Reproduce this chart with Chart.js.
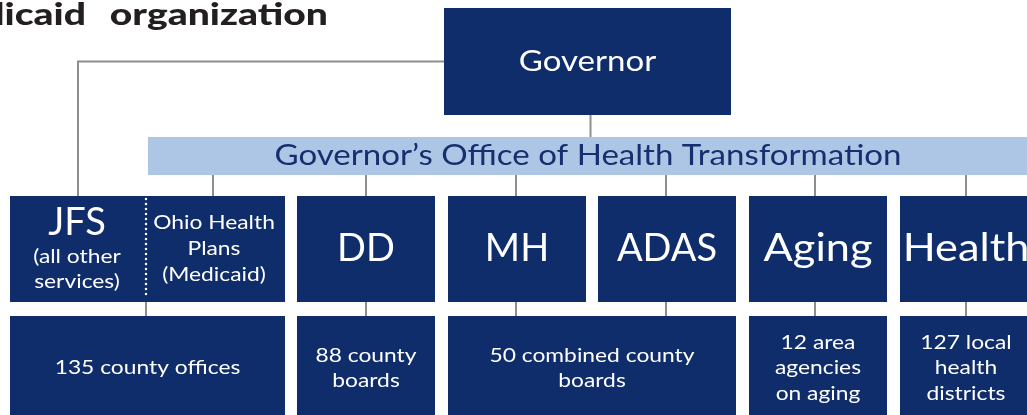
<!DOCTYPE html>
<html>
<head>
<meta charset="utf-8">
<script src="https://cdn.jsdelivr.net/npm/chart.js@4/dist/chart.umd.min.js"></script>
<style>
  html, body { margin: 0; padding: 0; background: #ffffff; }
  #wrap { width: 1027px; height: 415px; }
</style>
</head>
<body>
<div id="wrap"><canvas id="orgChart" width="1027" height="415"></canvas></div>
<script>
// chart content
var titleWords = ['Medicaid', 'organization'];
var topUnit = 'Governor';
var officeName = 'Governor\u2019s Office of Health Transformation';
var agencies = ['JFS', 'DD', 'MH', 'ADAS', 'Aging', 'Health'];
var agencyNotes = [['(all other', 'services)'], [], [], [], [], []];
var medicaidUnit = ['Ohio Health', 'Plans', '(Medicaid)'];
var localUnits = [
    ['135 county offices'],
    ['88 county', 'boards'],
    ['50 combined county', 'boards'],
    ['12 area', 'agencies', 'on aging'],
    ['127 local', 'health', 'districts']
];
// which agencies each local box sits under (first, last)
var localSpan = [[0, 0], [1, 1], [2, 3], [4, 4], [5, 5]];

// layout in chart units (x 0..1027, y 0..415 from top)
var layout = {
    titleEnds: [86, 328],
    titleBase: 25,
    top: { x0: 444, x1: 731, y0: 8, y1: 115 },
    office: { x0: 148, x1: 1030, y0: 137, y1: 175 },
    agencyRow: { y0: 196, y1: 302 },
    localRow: { y0: 316, y1: 418 },
    agencyCols: [[10, 285], [297, 435], [448, 586], [598, 736], [749, 887], [900, 1030]],
    jfsSplit: 146,
    jfsLeftCenter: 77,
    medicaidCenter: 214,
    officeDrops: [213, 366, 516, 666, 815, 966],
    localDrops: [146, 366, 516, 666, 815, 966]
};

var navy = '#0f2c6b';
var lightBlue = '#adc6e6';
var lineGray = '#8e8e8e';
var fontFamily = 'Lato, "Noto Sans", sans-serif';
var bodyWeight = 400;
var wide = 1.14; // Lato is narrower than the original geometric face

// connector lines as scatter line segments
function connectorData() {
    var pts = [];
    var t = layout.top, o = layout.office, a = layout.agencyRow, l = layout.localRow;
    var govMid = (t.x0 + t.x1) / 2 + 3;
    // governor -> JFS elbow
    pts.push({ x: t.x0, y: (t.y0 + t.y1) / 2 }, { x: layout.jfsLeftCenter + 1, y: (t.y0 + t.y1) / 2 }, { x: layout.jfsLeftCenter + 1, y: a.y0 }, { x: null, y: null });
    // governor -> office
    pts.push({ x: govMid, y: t.y1 }, { x: govMid, y: o.y0 }, { x: null, y: null });
    layout.officeDrops.forEach(function (x) {
        pts.push({ x: x, y: o.y1 }, { x: x, y: a.y0 }, { x: null, y: null });
    });
    layout.localDrops.forEach(function (x) {
        pts.push({ x: x, y: a.y1 }, { x: x, y: l.y0 }, { x: null, y: null });
    });
    return pts;
}

function boxRect(chart, x0, x1, y0, y1) {
    var xs = chart.scales.x, ys = chart.scales.y;
    var px0 = xs.getPixelForValue(x0), px1 = xs.getPixelForValue(x1);
    var py0 = ys.getPixelForValue(y0), py1 = ys.getPixelForValue(y1);
    return { x: px0, y: py0, w: px1 - px0, h: py1 - py0 };
}

function drawLines(ctx, lines, cx, cy, size, gap, color, stretch) {
    ctx.save();
    ctx.fillStyle = color;
    ctx.font = bodyWeight + ' ' + size + 'px ' + fontFamily;
    ctx.textAlign = 'center';
    ctx.textBaseline = 'middle';
    ctx.translate(cx, 0);
    ctx.scale(stretch || 1, 1);
    var start = cy - (lines.length - 1) * gap / 2;
    for (var i = 0; i < lines.length; i++) {
        ctx.fillText(lines[i], 0, start + i * gap);
    }
    ctx.restore();
}

var orgPlugin = {
    id: 'orgBoxes',
    beforeDatasetsDraw: function (chart) {
        var ctx = chart.ctx;
        ctx.save();
        var r = boxRect(chart, layout.top.x0, layout.top.x1, layout.top.y0, layout.top.y1);
        ctx.fillStyle = navy;
        ctx.fillRect(r.x, r.y, r.w, r.h);
        r = boxRect(chart, layout.office.x0, layout.office.x1, layout.office.y0, layout.office.y1);
        ctx.fillStyle = lightBlue;
        ctx.fillRect(r.x, r.y, r.w, r.h);
        ctx.fillStyle = navy;
        layout.agencyCols.forEach(function (c) {
            var b = boxRect(chart, c[0], c[1], layout.agencyRow.y0, layout.agencyRow.y1);
            ctx.fillRect(b.x, b.y, b.w, b.h);
        });
        localSpan.forEach(function (s) {
            var b = boxRect(chart, layout.agencyCols[s[0]][0], layout.agencyCols[s[1]][1], layout.localRow.y0, layout.localRow.y1);
            ctx.fillRect(b.x, b.y, b.w, b.h);
        });
        ctx.restore();
    },
    afterDatasetsDraw: function (chart) {
        var ctx = chart.ctx;
        var xs = chart.scales.x, ys = chart.scales.y;
        ctx.save();
        // title, its first letters run off the left edge
        titleWords.forEach(function (w, k) {
            ctx.save();
            ctx.fillStyle = '#231f20';
            ctx.font = '900 31px ' + fontFamily;
            ctx.textAlign = 'right';
            ctx.textBaseline = 'alphabetic';
            ctx.translate(xs.getPixelForValue(layout.titleEnds[k]), 0);
            ctx.scale(1.26, 1);
            ctx.fillText(w, 0, ys.getPixelForValue(layout.titleBase));
            ctx.restore();
        });

        var t = layout.top;
        drawLines(ctx, [topUnit], xs.getPixelForValue((t.x0 + t.x1) / 2), ys.getPixelForValue((t.y0 + t.y1) / 2), 29, 0, '#ffffff', wide);
        var o = layout.office;
        drawLines(ctx, [officeName], xs.getPixelForValue(588), ys.getPixelForValue((o.y0 + o.y1) / 2), 29, 0, '#14306e', wide);

        var a = layout.agencyRow;
        var midA = (a.y0 + a.y1) / 2;
        // JFS with split
        drawLines(ctx, [agencies[0]], xs.getPixelForValue(layout.jfsLeftCenter), ys.getPixelForValue(223), 38, 0, '#ffffff', 1);
        drawLines(ctx, agencyNotes[0], xs.getPixelForValue(layout.jfsLeftCenter), ys.getPixelForValue(269), 20, 25, '#ffffff', wide);
        drawLines(ctx, medicaidUnit, xs.getPixelForValue(layout.medicaidCenter), ys.getPixelForValue(midA), 20, 26, '#ffffff', wide);
        for (var i = 1; i < agencies.length; i++) {
            var c = layout.agencyCols[i];
            var cx = i === agencies.length - 1 ? layout.officeDrops[i] : (c[0] + c[1]) / 2;
            var caps = agencies[i] === agencies[i].toUpperCase();
            drawLines(ctx, [agencies[i]], xs.getPixelForValue(cx), ys.getPixelForValue(midA), 38, 0, '#ffffff', caps ? 1 : wide);
        }
        // dotted split
        ctx.strokeStyle = '#ffffff';
        ctx.lineWidth = 2.5;
        ctx.lineCap = 'round';
        ctx.setLineDash([0, 5]);
        ctx.beginPath();
        ctx.moveTo(xs.getPixelForValue(layout.jfsSplit), ys.getPixelForValue(a.y0 + 3));
        ctx.lineTo(xs.getPixelForValue(layout.jfsSplit), ys.getPixelForValue(a.y1 - 5));
        ctx.stroke();
        ctx.setLineDash([]);

        localSpan.forEach(function (s, k) {
            var x0 = layout.agencyCols[s[0]][0];
            var x1 = layout.agencyCols[s[1]][1];
            var cx = s[0] === agencies.length - 1 ? layout.officeDrops[s[0]] : (x0 + x1) / 2;
            drawLines(ctx, localUnits[k], xs.getPixelForValue(cx), ys.getPixelForValue(368), 20, 25.5, '#ffffff', wide);
        });
        ctx.restore();
    }
};

var chart = new Chart(document.getElementById('orgChart').getContext('2d'), {
    type: 'scatter',
    data: {
        datasets: [{
            label: 'connectors',
            data: connectorData(),
            showLine: true,
            spanGaps: false,
            borderColor: lineGray,
            borderWidth: 2,
            pointRadius: 0
        }]
    },
    options: {
        responsive: false,
        animation: false,
        layout: { padding: 0 },
        plugins: { legend: { display: false }, tooltip: { enabled: false } },
        scales: {
            x: { type: 'linear', min: 0, max: 1027, display: false },
            y: { type: 'linear', min: 0, max: 415, reverse: true, display: false }
        }
    },
    plugins: [orgPlugin]
});
</script>
</body>
</html>
